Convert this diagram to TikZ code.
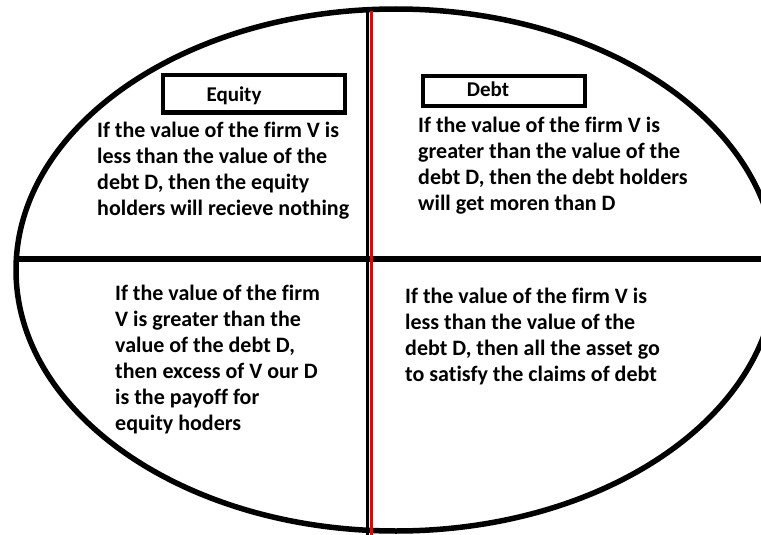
\documentclass[tikz,border=0pt]{standalone}
\usepackage{fontspec}
\setmainfont{Carlito}[Ligatures=NoCommon]
\begin{document}
\begin{tikzpicture}[x=1pt,y=-1pt,
  txt/.style={font=\bfseries\fontsize{22}{26}\selectfont, align=left, inner sep=0pt, anchor=base west},
  lbl/.style={draw, line width=4pt, inner sep=0pt},
  lbltxt/.style={font=\bfseries\fontsize{21}{24}\selectfont, anchor=base, inner sep=0pt}]
\useasboundingbox (0,0) rectangle (761,535);
\begin{scope}
\clip (0,0) rectangle (761,535);
\draw[line width=5.5pt] (396,270) ellipse [x radius=380, y radius=261];
\coordinate (hl) at (16,259);
\coordinate (hr) at (770,259);
\draw[line width=6pt] (hl) -- (hr);
\coordinate (vt) at (367.5,10);
\coordinate (vb) at (367.5,540);
\draw[line width=3pt] (vt) -- (vb);
\coordinate (rt) at (371.5,11);
\coordinate (rb) at (371.5,540);
\draw[line width=3.5pt, red!92!black] (rt) -- (rb);
\end{scope}
\node[lbl, minimum width=182pt, minimum height=37pt] (eqbox) at (253.5,94) {};
\node[lbltxt] (eq) at (234,102) {Equity};
\node[lbl, minimum width=162pt, minimum height=30pt] (dbbox) at (503.5,91) {};
\node[lbltxt] (db) at (488,97) {Debt};
\node[txt] (t1) at (97,215) {If the value of the firm V is\\less than the value of the\\debt D, then the equity\\holders will recieve nothing};
\node[txt] (t2) at (418,210) {If the value of the firm V is\\greater than the value of the\\debt D, then the debt holders\\will get moren than D};
\node[txt] (t3) at (115,430) {If the value of the firm\\V is greater than the\\value of the debt D,\\then excess of V our D\\is the payoff for\\equity hoders};
\node[txt] (t4) at (405,381) {If the value of the firm V is\\less than the value of the\\debt D, then all the asset go\\to satisfy the claims of debt};
\end{tikzpicture}
\end{document}
